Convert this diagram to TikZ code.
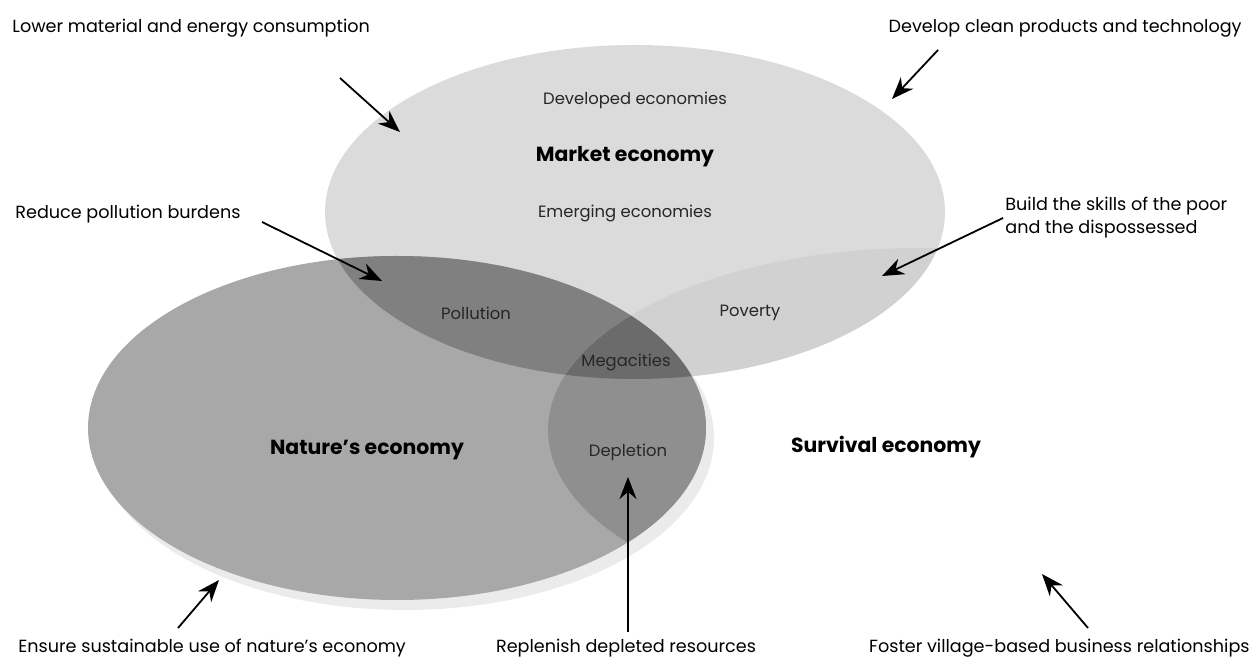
\documentclass[tikz,border=0pt]{standalone}
\usepackage{fontspec}
\setmainfont{Poppins}
\usetikzlibrary{arrows.meta,calc}

\definecolor{marketgray}{gray}{0.86}
\definecolor{naturegray}{gray}{0.66}
\definecolor{shadowgray}{gray}{0.92}
\definecolor{pollutiongray}{gray}{0.50}
\definecolor{povertygray}{gray}{0.82}
\definecolor{depletiongray}{gray}{0.56}
\definecolor{megagray}{gray}{0.42}

\tikzset{
    hint/.style={font=\fontsize{8.8}{11.5}\selectfont, inner sep=0pt, align=left},
    area/.style={font=\fontsize{8.2}{10}\selectfont, inner sep=0pt, text=black!85},
    economy/.style={font=\fontsize{10.2}{12}\selectfont\bfseries, inner sep=0pt},
    pfeil/.style={line width=0.9pt, -{Stealth[length=11pt, width=8.5pt]}},
}

\begin{document}
\begin{tikzpicture}[x=0.5pt, y=-0.5pt]
    \useasboundingbox (0,0) rectangle (1258,662);

    % Ellipsen (Mittelpunkt, Radien)
    \coordinate (mc) at (635,212);  \def\mrx{310} \def\mry{167}
    \coordinate (nc) at (397,428);  \def\nrx{309} \def\nry{172}
    \coordinate (sc) at (920,430);  \def\srx{372} \def\sry{182}

    % Flaechen
    \fill[shadowgray] ($(nc)+(8,10)$) ellipse [x radius=\nrx, y radius=\nry];
    \fill[marketgray] (mc) ellipse [x radius=\mrx, y radius=\mry];
    \fill[naturegray] (nc) ellipse [x radius=\nrx, y radius=\nry];

    % Schnittmengen
    \begin{scope}
        \clip (mc) ellipse [x radius=\mrx, y radius=\mry];
        \fill[pollutiongray] (nc) ellipse [x radius=\nrx, y radius=\nry];
        \fill[povertygray] (sc) ellipse [x radius=\srx, y radius=\sry];
    \end{scope}
    \begin{scope}
        \clip (nc) ellipse [x radius=\nrx, y radius=\nry];
        \fill[depletiongray] (sc) ellipse [x radius=\srx, y radius=\sry];
        \clip (mc) ellipse [x radius=\mrx, y radius=\mry];
        \fill[megagray] (sc) ellipse [x radius=\srx, y radius=\sry];
    \end{scope}

    % Beschriftung der Flaechen
    \node[area] (developed) at (635,100) {Developed economies};
    \node[economy] (market) at (625,157) {Market economy};
    \node[area] (emerging) at (625,213) {Emerging economies};
    \node[area] (pollution) at (476,313) {Pollution};
    \node[area] (poverty) at (750,313) {Poverty};
    \node[area] (megacities) at (626,362) {Megacities};
    \node[area] (depletion) at (628,452) {Depletion};
    \node[economy] (nature) at (367,450) {Nature’s economy};
    \node[economy] (survival) at (886,447) {Survival economy};

    % Massnahmen
    \node[hint, anchor=west] (lower) at (12,28) {Lower material and energy consumption};
    \node[hint, anchor=east] (clean) at (1242,28) {Develop clean products and technology};
    \node[hint, anchor=west] (reduce) at (15,214) {Reduce pollution burdens};
    \node[hint, anchor=north west] (skills) at (1005,197) {Build the skills of the poor\\and the dispossessed};
    \node[hint, anchor=west] (ensure) at (18,648) {Ensure sustainable use of nature’s economy};
    \node[hint] (replenish) at (626,648) {Replenish depleted resources};
    \node[hint, anchor=east] (foster) at (1250,648) {Foster village-based business relationships};

    % Pfeile
    \coordinate (lowerS) at (340,78);     \coordinate (lowerT) at (400,132);
    \coordinate (cleanS) at (938,50);     \coordinate (cleanT) at (892,99);
    \coordinate (reduceS) at (262,222);   \coordinate (reduceT) at (382,281);
    \coordinate (skillsS) at (1003,218);  \coordinate (skillsT) at (882,276);
    \coordinate (ensureS) at (178,628);   \coordinate (ensureT) at (219,580);
    \coordinate (replS) at (628,632);     \coordinate (replT) at (628,477);
    \coordinate (fosterS) at (1088,628);  \coordinate (fosterT) at (1042,574);
    \foreach \s/\t in {lowerS/lowerT, cleanS/cleanT, reduceS/reduceT, skillsS/skillsT,
                       ensureS/ensureT, replS/replT, fosterS/fosterT} {
        \draw[pfeil] (\s) -- (\t);
    }
\end{tikzpicture}
\end{document}
